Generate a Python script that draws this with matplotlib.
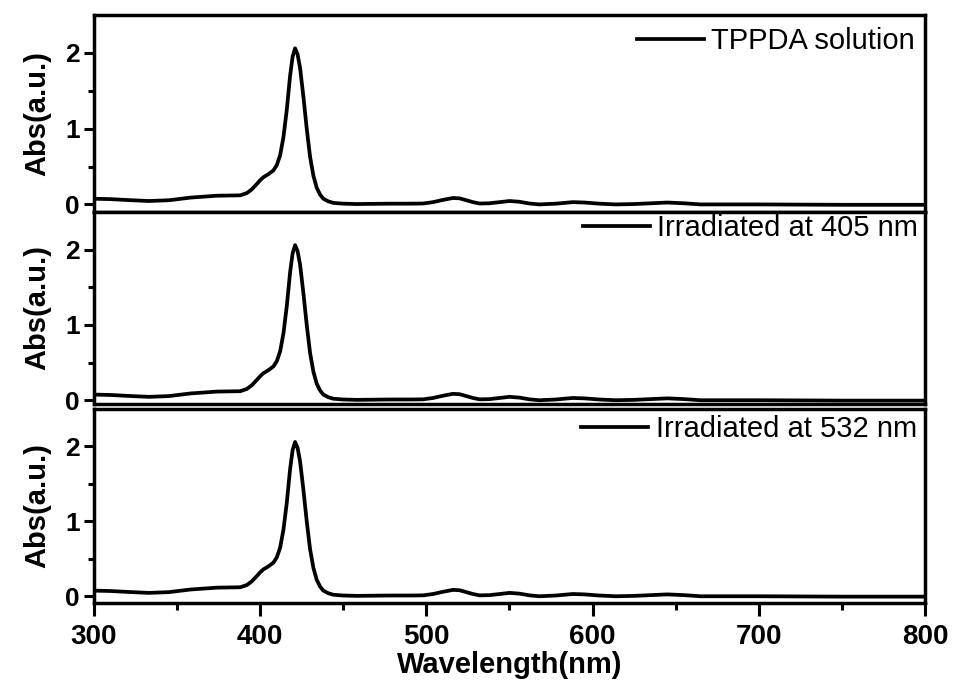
import matplotlib
matplotlib.use('Agg')
import matplotlib.pyplot as plt
from matplotlib.ticker import FixedLocator, MultipleLocator

# wavelength (nm) and absorbance
wavelength = [300, 310, 320, 333, 345, 358, 374, 388, 392, 395, 398, 400,
              402, 405, 408, 410, 412, 414, 416, 418, 419.5, 421, 422.5,
              424, 426, 428, 430, 432, 434, 436, 438, 441, 444, 450, 458,
              478, 490, 498, 504, 510, 516, 520, 524, 528, 532, 538, 544,
              550, 556, 562, 568, 578, 588, 595, 604, 614, 625, 635, 645,
              655, 665, 700, 750, 800]
abs_solution = [0.075, 0.07, 0.058, 0.045, 0.055, 0.09, 0.115, 0.12, 0.15,
                0.2, 0.27, 0.32, 0.36, 0.40, 0.45, 0.52, 0.65, 0.89, 1.25,
                1.7, 1.95, 2.06, 1.98, 1.80, 1.42, 1.0, 0.63, 0.38, 0.22,
                0.13, 0.075, 0.04, 0.02, 0.01, 0.005, 0.01, 0.01, 0.012,
                0.03, 0.06, 0.085, 0.08, 0.055, 0.03, 0.012, 0.015, 0.03,
                0.045, 0.035, 0.012, 0.0, 0.01, 0.03, 0.025, 0.01, 0.0,
                0.005, 0.015, 0.025, 0.015, 0.0, 0.0, -0.005, -0.005]
abs_405 = abs_solution
abs_532 = abs_solution

series = [abs_solution, abs_405, abs_532]
labels = ['TPPDA solution', 'Irradiated at 405 nm', 'Irradiated at 532 nm']
y_ticks = [0, 1, 2]
x_ticks = [300, 400, 500, 600, 700, 800]

W, H = 954, 686
fig = plt.figure(figsize=(W / 100, H / 100), dpi=100)
plt.rcParams['font.family'] = ['Liberation Sans', 'DejaVu Sans']

# panel pixel extents (top, bottom) and y limits
panels = [(15, 212, (-0.1, 2.5)), (212, 404, (-0.05, 2.5)),
          (409, 603, (-0.09, 2.5))]
legend_anchor = [(0.988, 0.94), (0.992, 0.99), (0.99, 0.967)]
x0, x1 = 94, 925

axes = []
for i, (top, bot, ylim) in enumerate(panels):
    ax = fig.add_axes([x0 / W, 1 - bot / H, (x1 - x0) / W, (bot - top) / H])
    ax.plot(wavelength, series[i], color='k', lw=2.7, label=labels[i])
    ax.set_xlim(300, 800)
    ax.set_ylim(*ylim)
    ax.yaxis.set_major_locator(FixedLocator(y_ticks))
    ax.yaxis.set_minor_locator(FixedLocator([0.5, 1.5]))
    ax.xaxis.set_major_locator(FixedLocator(x_ticks))
    ax.xaxis.set_minor_locator(MultipleLocator(50))
    for s in ax.spines.values():
        s.set_linewidth(2.5)
    ax.tick_params(axis='y', which='major', direction='out', length=7,
                   width=2.2, labelsize=19, pad=3)
    ax.tick_params(axis='y', which='minor', direction='out', length=4.5,
                   width=2.2)
    for lab in ax.get_yticklabels():
        lab.set_fontweight('bold')
    if i < 2:
        ax.tick_params(axis='x', which='both', bottom=False, labelbottom=False)
    else:
        ax.tick_params(axis='x', which='major', direction='out', length=9,
                       width=2.2, labelsize=20, pad=6)
        ax.tick_params(axis='x', which='minor', direction='out', length=5,
                       width=2.2)
        for lab in ax.get_xticklabels():
            lab.set_fontweight('bold')
        ax.set_xlabel('Wavelength(nm)', fontsize=21, fontweight='bold',
                      labelpad=1)
    ax.set_ylabel('Abs(a.u.)', fontsize=21, fontweight='bold', labelpad=10)
    ax.legend(loc='upper right', bbox_to_anchor=legend_anchor[i],
              frameon=False, fontsize=21, handlelength=2.3,
              handletextpad=0.25, borderpad=0, borderaxespad=0)
    axes.append(ax)

fig.savefig('out.png', dpi=100)
